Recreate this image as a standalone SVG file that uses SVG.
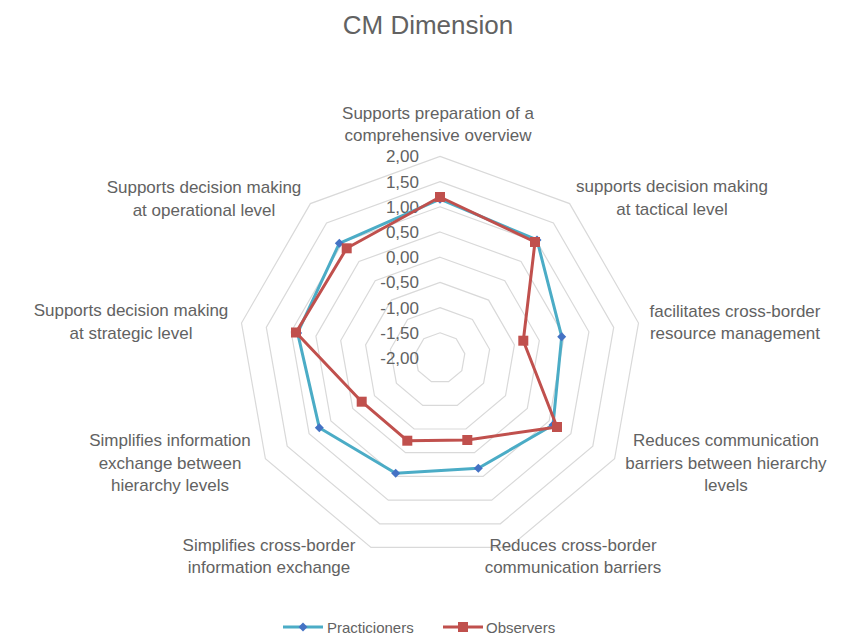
<svg xmlns="http://www.w3.org/2000/svg" width="849" height="637" viewBox="0 0 849 637">
<style>
.t{font-family:"Liberation Sans",Arial,sans-serif;fill:#626262}
.lab{font-size:17px;text-anchor:middle}
.val{font-size:17px;text-anchor:end}
.ring{fill:none;stroke:#d9d9d9;stroke-width:1.2}
.sp{fill:none;stroke:#4bacc6;stroke-width:3;stroke-linejoin:round}
.so{fill:none;stroke:#c0504d;stroke-width:3;stroke-linejoin:round}
</style>
<defs>
<path id="dia" d="M0,-4.5 L4.5,0 L0,4.5 L-4.5,0 Z" fill="#4472c4"/>
<rect id="sq" x="-5" y="-5" width="10" height="10" fill="#c0504d"/>
</defs>
<rect width="849" height="637" fill="#ffffff"/>
<text id="title" class="t" x="428" y="34" font-size="26" text-anchor="middle">CM Dimension</text>
<g id="grid">
<polygon class="ring" points="440,332.8 456.2,338.7 464.8,353.6 461.8,370.6 448.6,381.7 431.4,381.7 418.2,370.6 415.2,353.6 423.8,338.7"/>
<polygon class="ring" points="440,307.6 472.4,319.4 489.6,349.3 483.6,383.2 457.2,405.4 422.8,405.4 396.4,383.2 390.4,349.3 407.6,319.4"/>
<polygon class="ring" points="440,282.4 488.6,300.1 514.4,344.9 505.5,395.8 465.9,429 414.1,429 374.5,395.8 365.6,344.9 391.4,300.1"/>
<polygon class="ring" points="440,257.2 504.8,280.8 539.3,340.5 527.3,408.4 474.5,452.7 405.5,452.7 352.7,408.4 340.7,340.5 375.2,280.8"/>
<polygon class="ring" points="440,232 521,261.5 564.1,336.1 549.1,421 483.1,476.4 396.9,476.4 330.9,421 315.9,336.1 359,261.5"/>
<polygon class="ring" points="440,206.8 537.2,242.2 588.9,331.8 570.9,433.6 491.7,500.1 388.3,500.1 309.1,433.6 291.1,331.8 342.8,242.2"/>
<polygon class="ring" points="440,181.6 553.4,222.9 613.7,327.4 592.8,446.2 500.3,523.8 379.7,523.8 287.2,446.2 266.3,327.4 326.6,222.9"/>
<polygon class="ring" points="440,156.4 569.6,203.6 638.5,323 614.6,458.8 509,547.4 371,547.4 265.4,458.8 241.5,323 310.4,203.6"/>
</g>
<g id="axis-values" class="t val">
<text x="419" y="162.4">2,00</text>
<text x="419" y="187.6">1,50</text>
<text x="419" y="212.8">1,00</text>
<text x="419" y="238">0,50</text>
<text x="419" y="263.2">0,00</text>
<text x="419" y="288.4">-0,50</text>
<text x="419" y="313.6">-1,00</text>
<text x="419" y="338.8">-1,50</text>
<text x="419" y="364">-2,00</text>
</g>
<g id="series-practicioners">
<polygon class="sp" points="440,199.2 537,240 561.7,336.7 553,425 478.3,468.3 395.7,473.3 319.3,427.7 297.6,332.9 339.3,243.3"/>
<use href="#dia" x="440" y="199.2"/>
<use href="#dia" x="537" y="240"/>
<use href="#dia" x="561.7" y="336.7"/>
<use href="#dia" x="553" y="425"/>
<use href="#dia" x="478.3" y="468.3"/>
<use href="#dia" x="395.7" y="473.3"/>
<use href="#dia" x="319.3" y="427.7"/>
<use href="#dia" x="297.6" y="332.9"/>
<use href="#dia" x="339.3" y="243.3"/>
</g>
<g id="series-observers">
<polygon class="so" points="440,197 535,242 523.3,340.7 557,427 467.3,440 407.3,440.7 361.7,401.7 296,332.5 346.7,248.3"/>
<use href="#sq" x="440" y="197"/>
<use href="#sq" x="535" y="242"/>
<use href="#sq" x="523.3" y="340.7"/>
<use href="#sq" x="557" y="427"/>
<use href="#sq" x="467.3" y="440"/>
<use href="#sq" x="407.3" y="440.7"/>
<use href="#sq" x="361.7" y="401.7"/>
<use href="#sq" x="296" y="332.5"/>
<use href="#sq" x="346.7" y="248.3"/>
</g>
<g id="category-labels" class="t lab">
<g id="cat-overview"><text x="438" y="119">Supports preparation of a</text><text x="438" y="141">comprehensive overview</text></g>
<g id="cat-tactical"><text x="672" y="192">supports decision making</text><text x="672" y="215">at tactical level</text></g>
<g id="cat-resource"><text x="735" y="317">facilitates cross-border</text><text x="735" y="339">resource management</text></g>
<g id="cat-hierarchy-barriers"><text x="726" y="446">Reduces communication</text><text x="726" y="469">barriers between hierarchy</text><text x="726" y="491">levels</text></g>
<g id="cat-crossborder-barriers"><text x="573" y="551">Reduces cross-border</text><text x="573" y="573">communication barriers</text></g>
<g id="cat-crossborder-info"><text x="269" y="551">Simplifies cross-border</text><text x="269" y="573">information exchange</text></g>
<g id="cat-hierarchy-info"><text x="170" y="446">Simplifies information</text><text x="170" y="469">exchange between</text><text x="170" y="491">hierarchy levels</text></g>
<g id="cat-strategic"><text x="131" y="316">Supports decision making</text><text x="131" y="339">at strategic level</text></g>
<g id="cat-operational"><text x="204" y="193">Supports decision making</text><text x="204" y="216">at operational level</text></g>
</g>
<g id="legend">
<line x1="283" y1="627" x2="323" y2="627" stroke="#4bacc6" stroke-width="3"/>
<use href="#dia" x="303" y="627"/>
<text class="t" x="327" y="632.5" font-size="15">Practicioners</text>
<line x1="443" y1="627" x2="483" y2="627" stroke="#c0504d" stroke-width="3"/>
<use href="#sq" x="463" y="627"/>
<text class="t" x="486" y="632.5" font-size="15">Observers</text>
</g>
</svg>
